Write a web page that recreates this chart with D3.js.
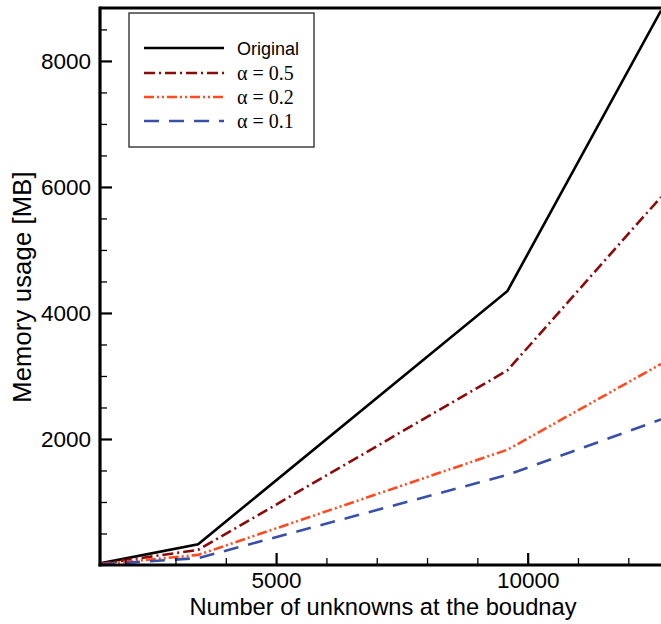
<!DOCTYPE html>
<html>
<head>
<meta charset="utf-8">
<script src="https://cdn.jsdelivr.net/npm/d3@7"></script>
<style>
  html, body { margin: 0; padding: 0; background: #fff; }
  svg { display: block; }
</style>
</head>
<body>
<svg id="chart" width="661" height="624"></svg>
<script>
// Number of unknowns on the boundary
const unknowns = [1500, 3450, 9600, 12650];

// Memory usage in MB for each variant
const original = [25, 330, 4350, 8800];
const alpha05  = [18, 240, 3090, 5840];
const alpha02  = [12, 160, 1830, 3190];
const alpha01  = [8, 110, 1430, 2310];

const seriesNames = ["Original", "\u03B1 = 0.5", "\u03B1 = 0.2", "\u03B1 = 0.1"];

const xMajorTicks = [5000, 10000];
const xMinorTicks = [2000, 3000, 4000, 6000, 7000, 8000, 9000, 11000, 12000];
const yMajorTicks = [2000, 4000, 6000, 8000];
const yMinorTicks = [500, 1000, 1500, 2500, 3000, 3500, 4500, 5000, 5500, 6500, 7000, 7500, 8500];

const series = [
  { name: seriesNames[0], values: original, color: "#000000", dash: null, serif: false },
  { name: seriesNames[1], values: alpha05,  color: "#8b0a0a", dash: "11,4,2,4", serif: true },
  { name: seriesNames[2], values: alpha02,  color: "#ff4a22", dash: "10,3,2,3,2,3", serif: true },
  { name: seriesNames[3], values: alpha01,  color: "#3a50a8", dash: "15,10", serif: true }
];

const svg = d3.select("#chart");
const plotLeft = 100, plotRight = 661, plotTop = 8, plotBottom = 565;

const x = d3.scaleLinear().domain([1500, 12650]).range([plotLeft, plotRight]);
const y = d3.scaleLinear().domain([0, 8840]).range([plotBottom, plotTop]);

const sans = "'Liberation Sans', Arial, Helvetica, sans-serif";
const serif = "'Liberation Serif', 'Times New Roman', serif";

// Lines
const line = d3.line()
  .x((d, i) => x(unknowns[i]))
  .y(d => y(d));

svg.append("clipPath").attr("id", "clip")
  .append("rect").attr("x", plotLeft).attr("y", plotTop)
  .attr("width", plotRight - plotLeft).attr("height", plotBottom - plotTop);

const lines = svg.append("g").attr("clip-path", "url(#clip)");
series.forEach(s => {
  lines.append("path")
    .datum(s.values)
    .attr("d", line)
    .attr("fill", "none")
    .attr("stroke", s.color)
    .attr("stroke-width", 2.6)
    .attr("stroke-dasharray", s.dash);
});

// Minor ticks
const xMinor = d3.axisBottom(x).tickValues(xMinorTicks).tickSize(-7).tickFormat("");
const yMinor = d3.axisLeft(y).tickValues(yMinorTicks).tickSize(-7).tickFormat("");
svg.append("g").attr("transform", `translate(0,${plotBottom})`).call(xMinor)
  .call(g => g.select(".domain").remove())
  .call(g => g.selectAll("line").attr("stroke-width", 1.3));
svg.append("g").attr("transform", `translate(${plotLeft},0)`).call(yMinor)
  .call(g => g.select(".domain").remove())
  .call(g => g.selectAll("line").attr("stroke-width", 1.3));

// Major ticks with labels
const xAxis = d3.axisBottom(x).tickValues(xMajorTicks).tickSize(-12).tickPadding(7).tickFormat(d3.format("d"));
const yAxis = d3.axisLeft(y).tickValues(yMajorTicks).tickSize(-12).tickPadding(9).tickFormat(d3.format("d"));

svg.append("g").attr("transform", `translate(0,${plotBottom})`).call(xAxis)
  .call(g => g.select(".domain").remove())
  .call(g => g.selectAll("line").attr("stroke-width", 2.2))
  .call(g => g.selectAll("text").attr("font-size", 22.5).attr("font-family", sans).attr("fill", "#000"));

svg.append("g").attr("transform", `translate(${plotLeft},0)`).call(yAxis)
  .call(g => g.select(".domain").remove())
  .call(g => g.selectAll("line").attr("stroke-width", 2.2))
  .call(g => g.selectAll("text").attr("font-size", 22.5).attr("font-family", sans).attr("fill", "#000"));

// Frame
svg.append("line").attr("x1", plotLeft).attr("x2", plotRight + 2).attr("y1", plotTop).attr("y2", plotTop)
  .attr("stroke", "#000").attr("stroke-width", 3);
svg.append("line").attr("x1", plotLeft).attr("x2", plotLeft).attr("y1", plotTop - 1.5).attr("y2", plotBottom + 1.5)
  .attr("stroke", "#000").attr("stroke-width", 3.2);
svg.append("line").attr("x1", plotLeft - 1.5).attr("x2", plotRight + 2).attr("y1", plotBottom).attr("y2", plotBottom)
  .attr("stroke", "#000").attr("stroke-width", 3.2);

// Axis titles
svg.append("text")
  .attr("x", 383).attr("y", 615)
  .attr("text-anchor", "middle")
  .attr("font-family", sans).attr("font-size", 23.7)
  .text("Number of unknowns at the boudnay");

svg.append("text")
  .attr("transform", "translate(31,287) rotate(-90)")
  .attr("text-anchor", "middle")
  .attr("font-family", sans).attr("font-size", 25.5)
  .attr("letter-spacing", 0.2)
  .text("Memory usage [MB]");

// Legend
const legend = svg.append("g");
legend.append("rect")
  .attr("x", 129).attr("y", 13).attr("width", 185).attr("height", 134)
  .attr("fill", "#fff").attr("stroke", "#333").attr("stroke-width", 1.4);

const rowY = [48, 73, 97, 121];
series.forEach((s, i) => {
  legend.append("line")
    .attr("x1", 144).attr("x2", 224)
    .attr("y1", rowY[i]).attr("y2", rowY[i])
    .attr("stroke", s.color).attr("stroke-width", 2.6)
    .attr("stroke-dasharray", s.dash);
  legend.append("text")
    .attr("x", 237).attr("y", rowY[i] + 6.5)
    .attr("font-family", s.serif ? serif : sans)
    .attr("font-size", s.serif ? 20 : 18)
    .text(s.name);
});
</script>
</body>
</html>
